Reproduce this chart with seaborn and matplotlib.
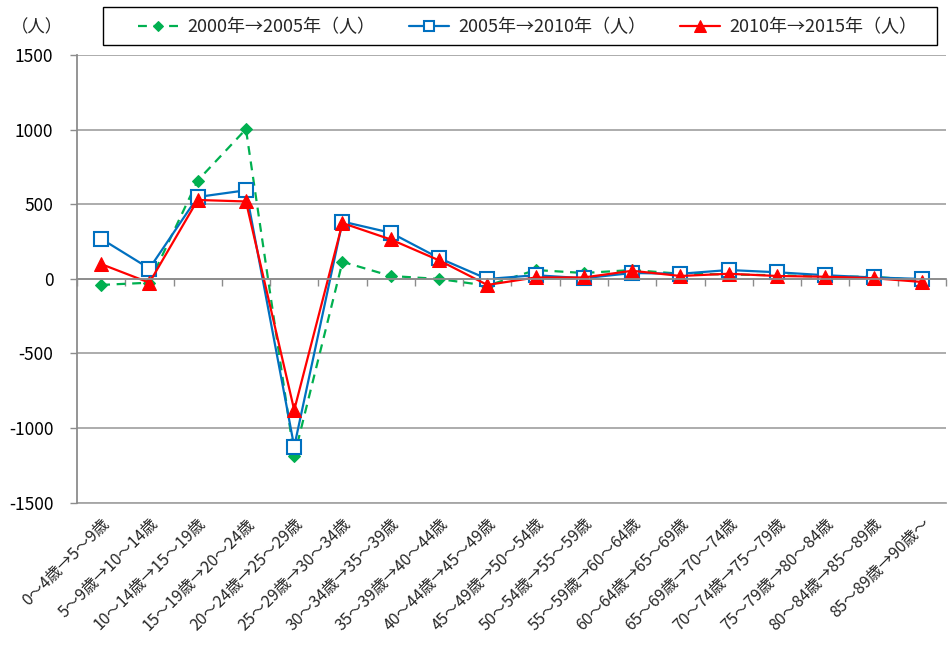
import numpy as np
import pandas as pd
import seaborn as sns
import matplotlib.pyplot as plt
from matplotlib.patches import Rectangle

# 年齢階級（コーホート）
age_groups = [
    "0～4歳→5～9歳", "5～9歳→10～14歳", "10～14歳→15～19歳", "15～19歳→20～24歳",
    "20～24歳→25～29歳", "25～29歳→30～34歳", "30～34歳→35～39歳", "35～39歳→40～44歳",
    "40～44歳→45～49歳", "45～49歳→50～54歳", "50～54歳→55～59歳", "55～59歳→60～64歳",
    "60～64歳→65～69歳", "65～69歳→70～74歳", "70～74歳→75～79歳", "75～79歳→80～84歳",
    "80～84歳→85～89歳", "85～89歳→90歳～",
]

series_names = ["2000年→2005年（人）", "2005年→2010年（人）", "2010年→2015年（人）"]

v_2000_2005 = [-40, -25, 660, 1005, -1190, 115, 20, 0, -45, 60, 40, 60, 35, 30, 25, 15, 15, -10]
v_2005_2010 = [270, 70, 550, 595, -1125, 385, 310, 140, 0, 25, 5, 40, 35, 60, 45, 25, 10, 0]
v_2010_2015 = [100, -25, 530, 520, -880, 375, 265, 125, -40, 10, 10, 55, 20, 35, 20, 15, 5, -20]

y_ticks = [-1500, -1000, -500, 0, 500, 1000, 1500]

df = pd.DataFrame({
    "idx": list(range(len(age_groups))) * 3,
    "value": v_2000_2005 + v_2005_2010 + v_2010_2015,
    "series": np.repeat(series_names, len(age_groups)),
})

sns.set_theme(style="white")
plt.rcParams["font.family"] = ["Noto Sans CJK JP", "DejaVu Sans"]

W, H = 949, 648
fig = plt.figure(figsize=(W / 100, H / 100), dpi=100)
ax = fig.add_axes([0.0811, 0.2245, 0.9157, 0.690])

styles = {
    series_names[0]: dict(color="#00B050", marker="D", markersize=6.5, linestyle=(0, (4, 3)),
                          markerfacecolor="#00B050", markeredgecolor="#00B050"),
    series_names[1]: dict(color="#0070C0", marker="s", markersize=9.5, linestyle="-",
                          markerfacecolor="white", markeredgecolor="#0070C0", markeredgewidth=1.5),
    series_names[2]: dict(color="#FF0000", marker="^", markersize=10, linestyle="-",
                          markerfacecolor="#FF0000", markeredgecolor="#FF0000"),
}

for name in series_names:
    sub = df[df["series"] == name]
    sns.lineplot(data=sub, x="idx", y="value", ax=ax, label=name, linewidth=1.6,
                 sort=False, estimator=None, **styles[name])

ax.set_xlim(-0.5, len(age_groups) - 0.5)
ax.set_ylim(-1500, 1500)
ax.set_yticks(y_ticks)
ax.set_yticklabels([str(t) for t in y_ticks], fontsize=12.5, color="black")
ax.yaxis.grid(True, color="#A6A6A6", linewidth=1.3)
ax.set_axisbelow(True)
ax.set_xlabel("")
ax.set_ylabel("")

for s in ["top", "right"]:
    ax.spines[s].set_visible(False)
ax.spines["left"].set_color("#8C8C8C")
ax.spines["left"].set_linewidth(1.3)
ax.tick_params(axis="y", length=5, color="#8C8C8C", width=1.0, pad=12, left=True)

# 横軸はゼロ位置、目盛は区切り位置
ax.spines["bottom"].set_position(("data", 0))
ax.spines["bottom"].set_color("#8C8C8C")
ax.spines["bottom"].set_linewidth(1.3)
ax.set_xticks(np.arange(len(age_groups)))
ax.set_xticklabels([])
ax.tick_params(axis="x", which="major", length=0, bottom=True)
ax.set_xticks(np.arange(len(age_groups) + 1) - 0.5, minor=True)
ax.tick_params(axis="x", which="minor", length=5, color="#8C8C8C", width=1.0, bottom=True)

sec = ax.secondary_xaxis(location=0)
sec.set_xticks(np.arange(len(age_groups)))
sec.set_xticklabels(age_groups, rotation=45, ha="right", va="top",
                    rotation_mode="anchor", fontsize=11.5)
sec.tick_params(length=0, pad=9)
sec.spines["bottom"].set_color("#A6A6A6")
sec.spines["bottom"].set_linewidth(1.3)

# 凡例（枠は別に描く）
leg = ax.legend(loc="center", bbox_to_anchor=(0.556, 0.958), bbox_transform=fig.transFigure,
                ncol=3, fontsize=13, frameon=False, handlelength=2.2, columnspacing=1.9,
                borderpad=0.3, markerscale=0.8, handletextpad=0.5)
fig.patches.append(Rectangle((103 / W, 1 - 45 / H), 834 / W, 38 / H, transform=fig.transFigure,
                             fill=False, edgecolor="black", linewidth=1.0))

fig.text(0.011, 0.958, "（人）", fontsize=12.5, ha="left", va="center")

fig.savefig("out.png", dpi=100)
